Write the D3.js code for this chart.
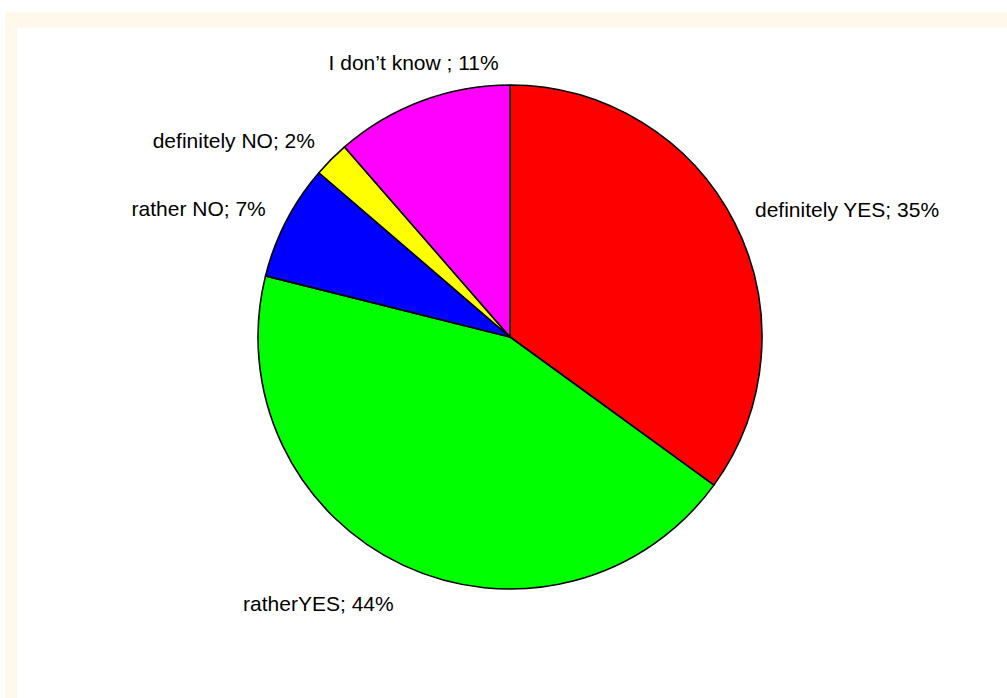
<!DOCTYPE html>
<html>
<head>
<meta charset="utf-8">
<script src="https://cdn.jsdelivr.net/npm/d3@7"></script>
<style>
  html, body { margin: 0; padding: 0; background: #ffffff; }
  svg { display: block; }
</style>
</head>
<body>
<svg id="chart" width="1007" height="698"></svg>
<script>
// Survey answers, in drawing order (clockwise from 12 o'clock)
const categories = ["definitely YES", "ratherYES", "rather NO", "definitely NO", "I don\u2019t know "];
const shares = [35.0, 43.9, 7.4, 2.3, 11.4];
const sliceColors = ["#ff0000", "#00ff00", "#0000ff", "#ffff00", "#ff00ff"];

const W = 1007, H = 698;
const cx = 510, cy = 337, radius = 252, labelRadius = 275;
const fontSize = 21;

const svg = d3.select("#chart");

// pale frame along the top and left edges
svg.append("rect").attr("x", 5).attr("y", 12).attr("width", W - 5).attr("height", 16).attr("fill", "#fff8eb");
svg.append("rect").attr("x", 5).attr("y", 12).attr("width", 12).attr("height", H - 12).attr("fill", "#fff8eb");

const rows = categories.map((c, i) => ({ category: c, value: shares[i], color: sliceColors[i] }));

const pie = d3.pie().sort(null).value(d => d.value).startAngle(0).endAngle(2 * Math.PI);
const arcs = pie(rows);
const arc = d3.arc().innerRadius(0).outerRadius(radius);

const g = svg.append("g").attr("transform", `translate(${cx},${cy})`);

g.selectAll("path.slice")
  .data(arcs)
  .join("path")
  .attr("class", "slice")
  .attr("d", arc)
  .attr("fill", d => d.data.color)
  .attr("stroke", "#000")
  .attr("stroke-width", 1.6)
  .attr("stroke-linejoin", "round");

// labels sit just outside the rim at each slice's mid angle
const fmt = d => `${d.data.category}; ${Math.round(d.data.value)}%`;

g.selectAll("text.lbl")
  .data(arcs)
  .join("text")
  .attr("class", "lbl")
  .attr("font-family", "'Liberation Sans', Arial, sans-serif")
  .attr("font-size", fontSize)
  .attr("fill", "#000")
  .each(function (d) {
    const a = (d.startAngle + d.endAngle) / 2;
    const s = Math.sin(a), c = Math.cos(a);
    const px = labelRadius * s, py = -labelRadius * c;
    let anchor = "middle";
    if (s > 0.4) anchor = "start";
    else if (s < -0.4) anchor = "end";
    let dy;
    if (c > 0.8) dy = -9;                   // above the point
    else if (c < -0.8) dy = fontSize * 1.2; // below the point
    else dy = fontSize * 0.25;              // vertically centred
    d3.select(this)
      .attr("x", px)
      .attr("y", py + dy)
      .attr("text-anchor", anchor)
      .text(fmt(d));
  });
</script>
</body>
</html>
